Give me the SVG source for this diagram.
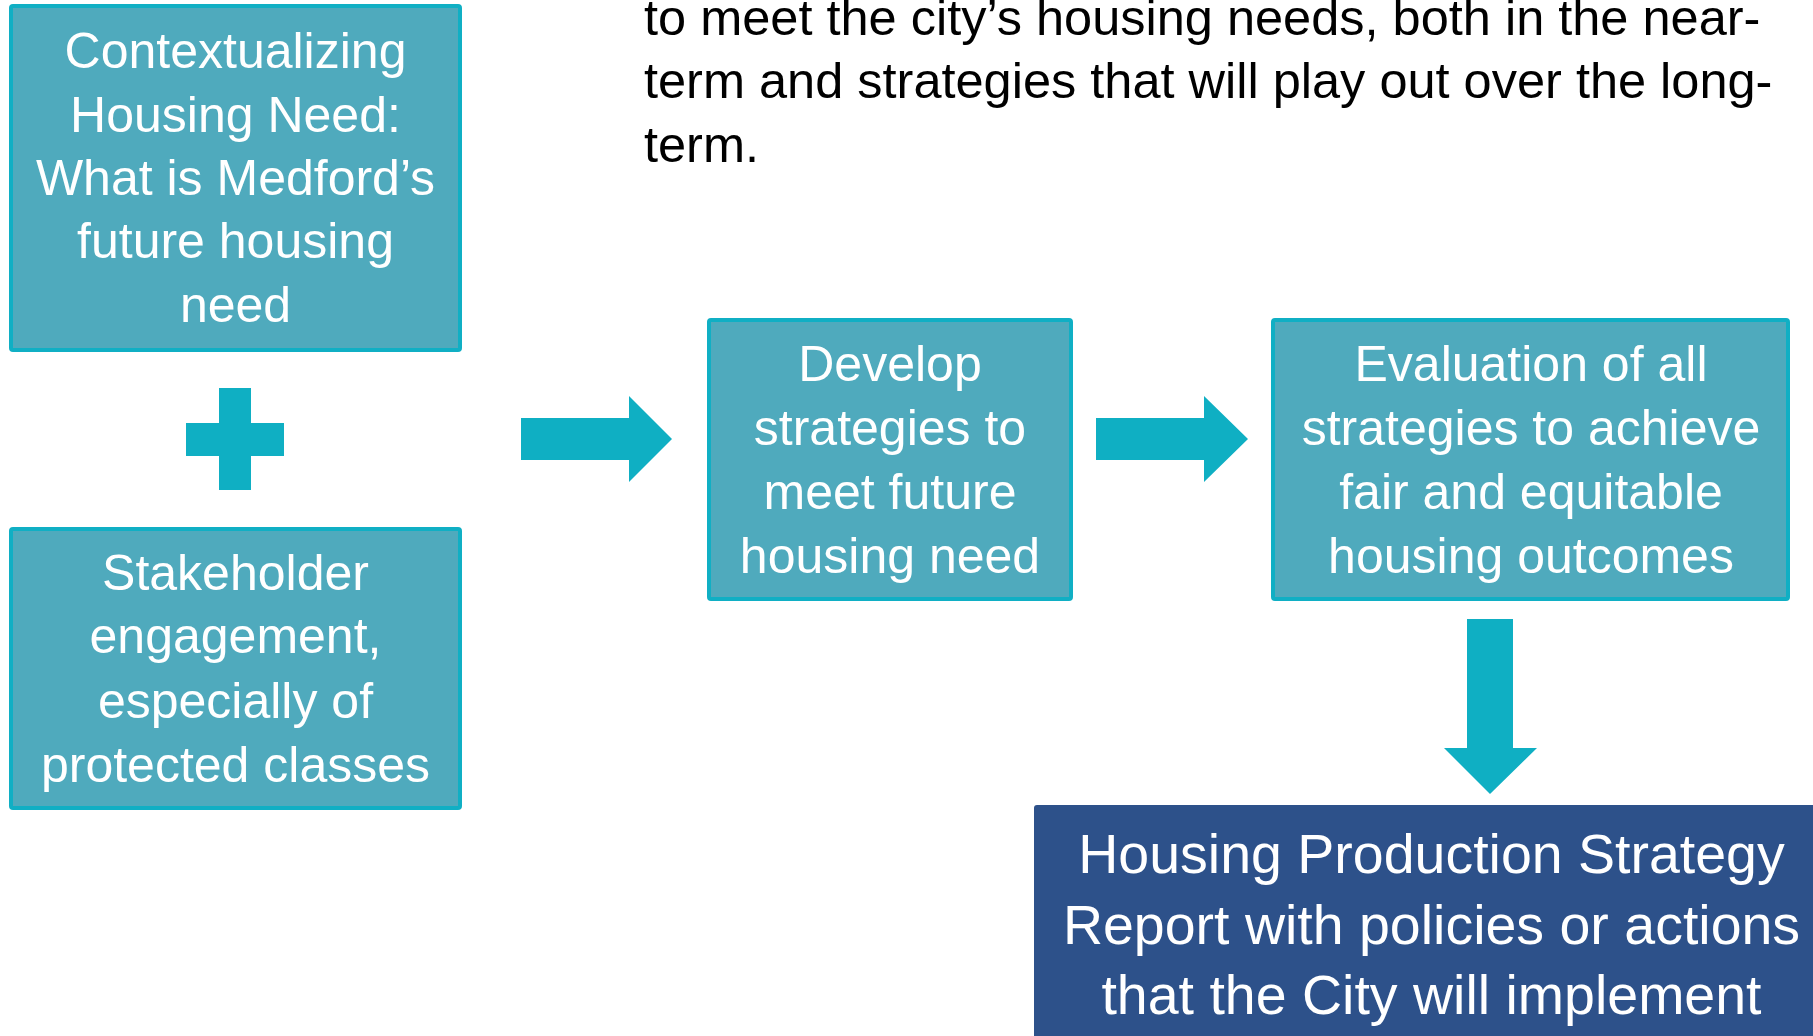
<svg xmlns="http://www.w3.org/2000/svg" width="1813" height="1036" viewBox="0 0 1813 1036">
  <style>
    .box { fill: #4FAABD; stroke: #10AFC4; stroke-width: 4; }
    .final { fill: #2D518A; }
    .arrow { fill: #0FAFC3; }
    .label { font-family: "Liberation Sans", Arial, sans-serif; font-size: 50px; fill: #FFFFFF; text-anchor: middle; }
    .big { font-size: 55.5px; }
    .body { font-family: "Liberation Sans", Arial, sans-serif; font-size: 50.5px; fill: #000000; }
  </style>
  <rect width="1813" height="1036" fill="#FFFFFF"/>

  <!-- intro paragraph (continues from above) -->
  <g id="intro">
    <text class="body" x="644" y="35">to meet the city’s housing needs, both in the near-</text>
    <text class="body" x="644" y="98">term and strategies that will play out over the long-</text>
    <text class="body" x="644" y="162">term.</text>
  </g>

  <g id="housing-need">
    <rect class="box" x="11" y="6" width="449" height="344" rx="2"/>
    <text class="label" x="235.5" y="68">Contextualizing</text>
    <text class="label" x="235.5" y="132">Housing Need:</text>
    <text class="label" x="235.5" y="195">What is Medford’s</text>
    <text class="label" x="235.5" y="258">future housing</text>
    <text class="label" x="235.5" y="322">need</text>
  </g>

  <g id="plus">
    <rect class="arrow" x="219" y="388" width="32" height="102"/>
    <rect class="arrow" x="186" y="423" width="98" height="33"/>
  </g>

  <g id="stakeholder">
    <rect class="box" x="11" y="529" width="449" height="279" rx="2"/>
    <text class="label" x="235.5" y="590">Stakeholder</text>
    <text class="label" x="235.5" y="653">engagement,</text>
    <text class="label" x="235.5" y="718">especially of</text>
    <text class="label" x="235.5" y="782">protected classes</text>
  </g>

  <g id="develop">
    <rect class="box" x="709" y="320" width="362" height="279" rx="2"/>
    <text class="label" x="890" y="381">Develop</text>
    <text class="label" x="890" y="445">strategies to</text>
    <text class="label" x="890" y="509">meet future</text>
    <text class="label" x="890" y="573">housing need</text>
  </g>

  <g id="evaluation">
    <rect class="box" x="1273" y="320" width="515" height="279" rx="2"/>
    <text class="label" x="1531" y="381">Evaluation of all</text>
    <text class="label" x="1531" y="445">strategies to achieve</text>
    <text class="label" x="1531" y="509">fair and equitable</text>
    <text class="label" x="1531" y="573">housing outcomes</text>
  </g>

  <g id="report">
    <rect class="final" x="1034" y="805" width="800" height="260" rx="3"/>
    <text class="label big" x="1431.5" y="873">Housing Production Strategy</text>
    <text class="label big" x="1431.5" y="944">Report with policies or actions</text>
    <text class="label big" x="1431.5" y="1014">that the City will implement</text>
  </g>

  <!-- block arrows -->
  <g id="connectors">
    <polygon class="arrow" points="521,418 629,418 629,396 672,439 629,482 629,460 521,460"/>
    <polygon class="arrow" points="1096,418 1204,418 1204,396 1248,439 1204,482 1204,460 1096,460"/>
    <polygon class="arrow" points="1467,619 1513,619 1513,748 1537,748 1490,794 1444,748 1467,748"/>
  </g>
</svg>
